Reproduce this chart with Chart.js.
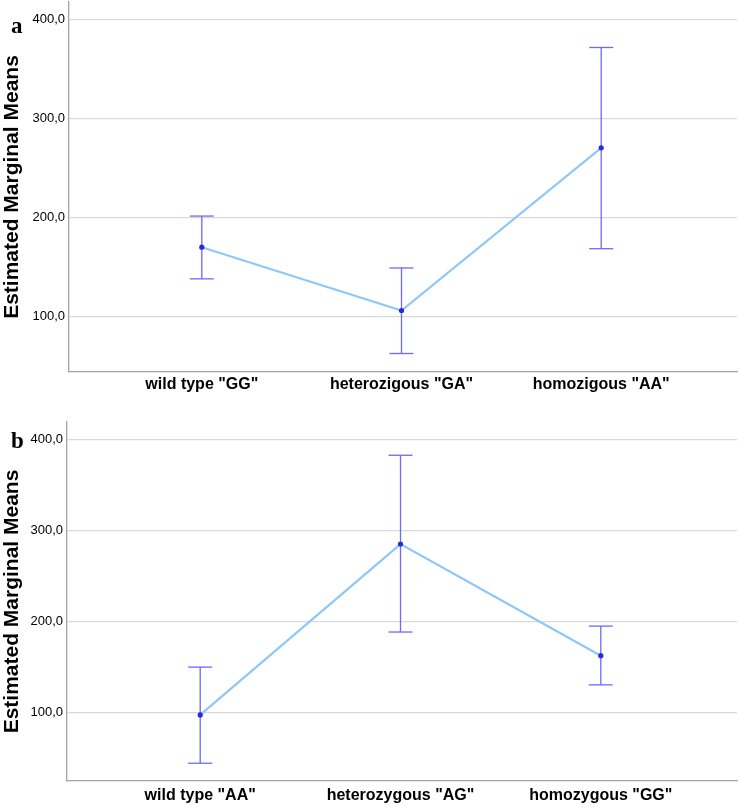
<!DOCTYPE html>
<html>
<head>
<meta charset="utf-8">
<script src="https://cdn.jsdelivr.net/npm/chart.js@4.4.1/dist/chart.umd.min.js"></script>
<style>
    html, body { margin: 0; padding: 0; background: #fff; }
    .panel { position: absolute; left: 0; width: 740px; }
    .tag { position: absolute; left: 11px; font: bold 23px/23px "Liberation Serif", "Times New Roman", serif; color: #000; }
</style>
</head>
<body>
<div class="panel" style="top:0;height:400px"><canvas id="chartA" width="740" height="400"></canvas></div>
<div class="panel" style="top:400px;height:407px"><canvas id="chartB" width="740" height="407"></canvas></div>
<div class="tag" style="top:14px">a</div>
<div class="tag" style="top:429px">b</div>
<script>
// panel a
const categoriesA = ['wild type "GG"', 'heterozigous "GA"', 'homozigous "AA"'];
const meansA = [170, 106, 270.5];
const lowerA = [138, 62.5, 168.5];
const upperA = [201.5, 149, 372];

// panel b
const categoriesB = ['wild type "AA"', 'heterozygous "AG"', 'homozygous "GG"'];
const meansB = [97.5, 285, 162.5];
const lowerB = [44.5, 188.5, 130.5];
const upperB = [150, 382.5, 195];

const yTicks = [100, 200, 300, 400];

const FONT = '"Liberation Sans", Arial, sans-serif';

// error bar dataset: low, high, gap for each category
function errorPoints(lower, upper) {
    const pts = [];
    lower.forEach((lo, i) => {
        pts.push({x: i, y: lo}, {x: i, y: upper[i]}, {x: i, y: null});
    });
    return pts;
}

function makeChart(id, cats, means, lower, upper, yMin, yMax, box) {
    new Chart(document.getElementById(id), {
        type: 'line',
        data: {
            datasets: [
                {
                    data: means.map((m, i) => ({x: i, y: m})),
                    borderColor: '#8ec8f8', borderWidth: 2.2, tension: 0,
                    pointRadius: 2.6, pointBackgroundColor: '#2a2ad8', pointBorderColor: '#2a2ad8', pointBorderWidth: 0
                },
                {
                    data: errorPoints(lower, upper),
                    borderColor: '#6a6aff', borderWidth: 1.3, spanGaps: false,
                    pointStyle: 'line', pointRadius: 12, pointBorderColor: '#6a6aff', pointBorderWidth: 1.3
                }
            ]
        },
        options: {
            responsive: false,
            animation: false,
            layout: {autoPadding: false, padding: {top: box.top, right: 3, left: 0, bottom: 0}},
            plugins: {legend: {display: false}, tooltip: {enabled: false}},
            scales: {
                x: {
                    type: 'linear', min: -0.665, max: 2.68,
                    grid: {display: false, drawTicks: false},
                    border: {color: '#a3a3a3', width: 1.3},
                    afterBuildTicks: s => { s.ticks = cats.map((c, i) => ({value: i})); },
                    ticks: {
                        callback: v => cats[v], color: '#000', padding: box.xpad,
                        font: {family: FONT, size: 16, weight: 'bold'}, maxRotation: 0, autoSkip: false
                    },
                    afterFit: s => { s.height = box.xh; s.paddingLeft = 0; s.paddingRight = 0; }
                },
                y: {
                    min: yMin, max: yMax,
                    afterBuildTicks: s => { s.ticks = yTicks.map(v => ({value: v})); },
                    grid: {color: '#d9d9d9', lineWidth: 1.3, drawTicks: false},
                    border: {color: '#a3a3a3', width: 1.3},
                    ticks: {
                        callback: v => v.toFixed(1).replace('.', ','), color: '#000', padding: 4,
                        font: {family: FONT, size: 13}
                    },
                    title: {
                        display: true, text: 'Estimated Marginal Means', color: '#000', padding: 0,
                        font: {family: FONT, size: 21, weight: 'bold'}
                    },
                    afterFit: s => { s.width = box.yw; s.paddingTop = 0; s.paddingBottom = 0; }
                }
            }
        }
    });
}

makeChart('chartA', categoriesA, meansA, lowerA, upperA, 43.8, 418, {top: 2, xh: 28, yw: 69, xpad: 3});
makeChart('chartB', categoriesB, meansB, lowerB, upperB, 25, 419, {top: 22, xh: 26, yw: 67, xpad: 5});
</script>
</body>
</html>
